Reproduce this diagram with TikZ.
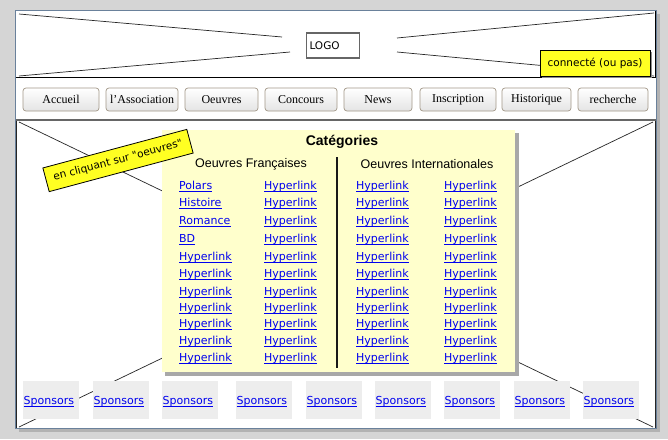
\documentclass[tikz,border=0pt]{standalone}
\usepackage{fontspec}
\setmainfont{Liberation Serif}
\newfontfamily\comicf{DejaVu Sans}
\newfontfamily\arialf{Liberation Sans}
\definecolor{bgcol}{HTML}{D5D5D5}
\definecolor{wshadow}{HTML}{B2B2B2}
\definecolor{wborder}{HTML}{6A819B}
\definecolor{btnborder}{HTML}{A39888}
\definecolor{btnbot}{HTML}{E4E4E4}
\definecolor{notey}{HTML}{FFFF22}
\definecolor{panelcol}{HTML}{FFFFCC}
\definecolor{pshadow}{HTML}{A8A8A8}
\definecolor{spcol}{HTML}{EDEDED}
\definecolor{linkcol}{HTML}{0000EE}
\tikzset{
  btn/.style={draw=btnborder, line width=0.7pt, rounded corners=3pt, top color=white, bottom color=btnbot,
    minimum height=23pt, inner sep=0pt, font=\fontsize{12}{14}\selectfont},
  note/.style={draw=black, line width=0.8pt, fill=notey, inner sep=0pt, font=\comicf\fontsize{10.5}{12}\selectfont},
  linktext/.style={inner sep=0pt, text=linkcol, font=\comicf\fontsize{11}{13}\selectfont},
  uline/.style={draw=linkcol, line width=0.7pt},
  spbox/.style={fill=spcol, inner sep=0pt, minimum width=56pt, minimum height=38pt},
  xline/.style={draw=black!85, line width=0.7pt},
  heading/.style={inner sep=0pt, font=\arialf\fontsize{12.5}{14}\selectfont},
}
\newcommand\mylink[3]{%
  \node[linktext, anchor=base west] (#1) at (#2) {#3};
  \draw[uline] ([yshift=-1.7pt]#1.base west) -- ([yshift=-1.7pt]#1.base east);}
\begin{document}
\begin{tikzpicture}[x=1pt,y=-1pt]
\useasboundingbox (0,0) rectangle (668,439);
\fill[bgcol] (0,0) rectangle (668,439);
% window
\fill[wshadow] (19,14) rectangle (660,432);
\fill[white] (15,10) rectangle (656,428);
% header placeholder
\coordinate (htl) at (19,14);
\coordinate (hbl) at (19,76);
\coordinate (htr) at (654,13);
\coordinate (hbr) at (654,76);
\coordinate (htlE) at (282,37);
\coordinate (hblE) at (290,52);
\coordinate (htrE) at (397,38);
\coordinate (hbrE) at (397,52);
\draw[xline] (htl) -- (htlE);
\draw[xline] (hbl) -- (hblE);
\draw[xline] (htr) -- (htrE);
\draw[xline] (hbr) -- (hbrE);
\draw[black, line width=0.9pt] (15.5,10.5) rectangle (655.5,77.5);
\node[draw=black!60, line width=1.2pt, fill=white, inner xsep=3pt, text width=47pt, minimum height=25pt,
  font=\comicf\fontsize{10.5}{12}\selectfont] (logo) at (333,45.5) {LOGO};
\fill[black!45] (542,52) rectangle (652,78);
\node[note, minimum width=110pt, minimum height=26pt] (conn) at (595,63) {connecté (ou pas)};
% navigation
\foreach \l/\r/\t [count=\i] in {23/99/Accueil,106/178/l'Association,185/258/Oeuvres,265/337/Concours,
  344/412/News,420/496/Inscription,502/571/Historique,578/648/recherche}{
  \pgfmathsetmacro\w{\r-\l}
  \pgfmathsetmacro\c{(\r+\l)/2}
  \node[btn, minimum width=\w pt] (b\i) at (\c,99.5) {\t};
}
% main placeholder
\coordinate (mtl) at (19,122);
\coordinate (mbl) at (19,427);
\coordinate (mtr) at (653,122);
\coordinate (mbr) at (653,427);
\draw[xline] (mtl) -- (mbr);
\draw[xline] (mbl) -- (mtr);
\draw[black!85, line width=0.9pt] (16,120) rectangle (655.5,428);
\draw[black!60, line width=2pt] (15,119.5) -- (656,119.5);
% categories panel
\fill[pshadow] (165,133) rectangle (518.5,375.5);
\node[fill=panelcol, inner sep=0pt, minimum width=353pt, minimum height=242pt, anchor=north west] (panel) at (162,130) {};
\node[inner sep=0pt, font=\arialf\bfseries\fontsize{14}{16}\selectfont] (cattitle) at (342,142) {Catégories};
\node[heading] (fr) at (251,164) {Oeuvres Françaises};
\node[heading] (intl) at (427,164) {Oeuvres Internationales};
\coordinate (divT) at (337,157);
\coordinate (divB) at (337,368);
\draw[black!90, line width=1.1pt] (divT) -- (divB);
\foreach \yy/\t [count=\r] in {189.5/Polars,206.5/Histoire,224.5/Romance,242.5/BD,260.5/Hyperlink,
  277.5/Hyperlink,295.5/Hyperlink,311.5/Hyperlink,327.5/Hyperlink,344.5/Hyperlink,361.5/Hyperlink}{
  \mylink{la\r}{179,\yy}{\t}
}
\foreach \cx/\cn in {264/b,356/c,444/d}{
  \foreach \yy [count=\r] in {189.5,206.5,224.5,242.5,260.5,277.5,295.5,311.5,327.5,344.5,361.5}{
    \mylink{l\cn\r}{\cx,\yy}{Hyperlink}
  }
}
% annotation
\node[note, rotate=15, minimum width=149pt, minimum height=24.5pt] (ann) at (118,160.5) {en cliquant sur "oeuvres"};
% sponsors
\foreach \sx [count=\i] in {23,93,162,236,306,375,444,514,583}{
  \node[spbox, anchor=north west] (sp\i) at (\sx,381) {};
  \mylink{st\i}{\sx+0.5,404.5}{Sponsors}
}
% window border
\draw[wborder, line width=1pt] (15,10) rectangle (656,428);
\end{tikzpicture}
\end{document}
